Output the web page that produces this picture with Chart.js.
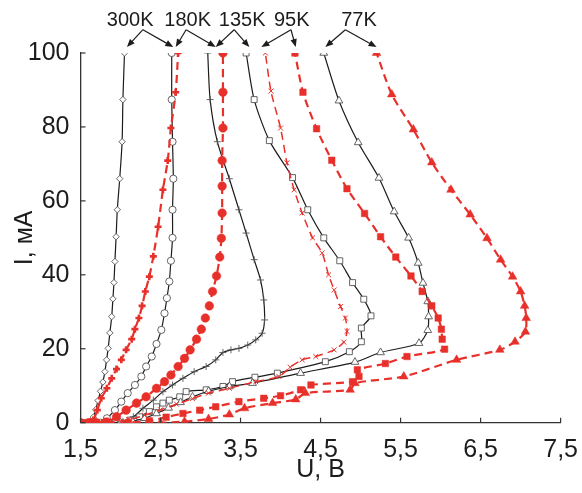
<!DOCTYPE html>
<html>
<head>
<meta charset="utf-8">
<script src="https://cdn.jsdelivr.net/npm/chart.js@4.4.1/dist/chart.umd.min.js"></script>
<style>
  html, body { margin: 0; padding: 0; background: #fff; }
  #wrap { width: 582px; height: 493px; }
</style>
</head>
<body>
<div id="wrap"><canvas id="c"></canvas></div>
<script>
// --- data: U in volts, I in mA ---
// black solid curves
var u300b = [1.5, 1.56, 1.62, 1.66, 1.69, 1.72, 1.75, 1.78, 1.805, 1.826, 1.846, 1.867, 1.89, 1.905, 1.918, 1.93, 1.945, 1.96, 1.99, 2.02, 2.03, 2.05];
var i300b = [0, 0, 0.3, 1.5, 3.5, 6, 8.5, 11, 13.8, 17, 20.1, 24.3, 28.7, 33.5, 37.9, 43.6, 50.3, 57.6, 66, 76, 87.4, 100];

var u180b = [1.5, 1.6, 1.7, 1.75, 1.83, 1.93, 2.01, 2.09, 2.18, 2.26, 2.32, 2.39, 2.45, 2.51, 2.55, 2.58, 2.61, 2.63, 2.65, 2.65, 2.66, 2.65, 2.64, 2.64];
var i180b = [0, 0, 0, 0, 1.2, 3.4, 5.7, 8, 10.2, 12.5, 15.2, 17.9, 21.3, 25.1, 29.6, 33.7, 38.2, 43.8, 50, 57.6, 66, 76, 87.4, 100];

var u135b = [1.5, 1.7, 1.9, 2.03, 2.16, 2.28, 2.41, 2.53, 2.65, 2.78, 2.92, 3.07, 3.19, 3.28, 3.38, 3.48, 3.59, 3.69, 3.77, 3.8, 3.79, 3.75, 3.67, 3.57, 3.48, 3.36, 3.21, 3.12, 3.09];
var i135b = [0, 0, 0, 0.3, 1.6, 3.9, 6.1, 8.4, 10.2, 12, 13.8, 15.2, 17, 19, 19.7, 20.1, 21, 22.4, 24.2, 27.8, 33.2, 38.6, 44.1, 51.3, 57.6, 66, 76, 87.4, 100];

var u95b = [1.5, 1.8, 2.0, 2.12, 2.24, 2.36, 2.45, 2.53, 2.61, 2.74, 2.82, 3.07, 3.28, 3.4, 3.68, 3.96, 4.56, 4.86, 5.01, 5.01, 5.13, 5.04, 4.9, 4.74, 4.54, 4.34, 4.15, 3.86, 3.67, 3.57];
var i95b = [0, 0, 0, 0.7, 1.6, 3, 4.3, 5.3, 6.1, 7, 8.4, 8.9, 9.8, 11.1, 12.3, 13.4, 16.5, 19.2, 21.9, 25.6, 28.9, 33.4, 37.9, 43.8, 50, 57.6, 66.3, 76.3, 87.4, 100];

var u77b = [1.5, 1.8, 2.0, 2.15, 2.3, 2.45, 2.6, 2.75, 2.9, 3.1, 3.36, 3.65, 4.25, 4.93, 5.25, 5.73, 5.84, 5.85, 5.84, 5.78, 5.72, 5.6, 5.42, 5.23, 4.97, 4.73, 4.54];
var i77b = [0, 0, 0, 0.4, 1.2, 2.5, 4, 5.5, 7, 8.5, 9.8, 10.7, 13.4, 16.4, 19, 21.5, 25, 28.7, 32.8, 37.8, 43.2, 50, 57.1, 66.2, 75.8, 87.1, 100];

// red dashed curves
var u300r = [1.5, 1.55, 1.6, 1.63, 1.66, 1.71, 1.76, 1.83, 1.89, 1.95, 2.01, 2.07, 2.14, 2.18, 2.23, 2.27, 2.31, 2.36, 2.41, 2.47, 2.53, 2.59, 2.63, 2.69, 2.72];
var i300r = [0, 0, 0, 0.2, 0.7, 3.4, 6.6, 9.3, 12, 14.5, 17, 19.7, 22.6, 25.3, 28.3, 31.6, 35.5, 39.5, 45, 53, 63, 70.9, 79.7, 89.4, 100];

var u180r = [1.5, 1.6, 1.7, 1.83, 1.95, 2.07, 2.2, 2.32, 2.45, 2.55, 2.63, 2.72, 2.8, 2.87, 2.95, 3.01, 3.06, 3.11, 3.15, 3.2, 3.24, 3.26, 3.27, 3.27, 3.27, 3.28, 3.28, 3.28];
var i180r = [0, 0, 0, 0.2, 1.6, 3.4, 5.3, 7, 9.3, 11.1, 12.9, 15.2, 17.4, 19.7, 22.6, 25.3, 28.3, 31.6, 35.5, 39.7, 44.8, 49.9, 56.7, 64, 70.9, 79.7, 89.4, 100];

var u135r = [1.5, 1.7, 1.9, 2.1, 2.3, 2.5, 2.7, 2.9, 3.1, 3.36, 3.69, 3.98, 4.12, 4.27, 4.44, 4.67, 4.79, 4.83, 4.81, 4.75, 4.67, 4.6, 4.52, 4.4, 4.27, 4.17, 4.08, 4.0, 3.88, 3.81];
var i135r = [0, 0, 0.2, 0.8, 2, 3.5, 5, 6.5, 8, 9.3, 11.1, 12.5, 15, 17, 17.9, 19.7, 21.8, 24.7, 28.3, 31.4, 35.9, 40, 45.9, 50, 56.7, 63, 70.3, 79.7, 89.7, 100];

var u95r = [1.5, 1.8, 2.1, 2.36, 2.57, 2.78, 2.99, 3.19, 3.48, 3.79, 4.0, 4.25, 4.38, 4.9, 4.98, 4.96, 5.31, 5.58, 6.05, 6.02, 6.01, 5.97, 5.89, 5.77, 5.63, 5.44, 5.25, 5.05, 4.83, 4.64, 4.45, 4.28, 4.18];
var i95r = [0, 0, 0, 0.5, 1.5, 2.5, 3.4, 4.3, 5.7, 6.6, 7.3, 8.9, 10.2, 11.1, 12.5, 14.3, 16, 17.9, 19.9, 22.6, 25.3, 28.3, 31.6, 35.5, 39.7, 44.8, 50.3, 56.6, 63.3, 71, 79.5, 89.4, 100];

var u77r = [1.5, 1.8, 2.1, 2.5, 2.8, 3.1, 3.36, 3.55, 3.9, 4.19, 4.31, 4.87, 4.93, 5.54, 6.2, 6.74, 6.93, 7.06, 7.07, 7.05, 7.0, 6.9, 6.75, 6.58, 6.37, 6.13, 5.89, 5.66, 5.39, 5.2];
var i77r = [0, 0, 0, 0, 0.3, 1, 2.2, 3.9, 5.3, 6.3, 8, 8.9, 10.7, 12.5, 17, 19.7, 21.9, 24.6, 28.3, 31.6, 35.5, 39.5, 44.1, 49.9, 56.3, 63, 70.4, 79.3, 88.8, 100];

// axis ticks
var uTicks = [1.5, 2.5, 3.5, 4.5, 5.5, 6.5, 7.5];
var iTicks = [0, 20, 40, 60, 80, 100];

// temperature labels and where their arrows point (data units)
var tempLabels = ["300K", "180K", "135K", "95K", "77K"];
var labelU = [2.12, 2.84, 3.52, 4.14, 4.98];
var apexU = [2.28, 2.82, 3.42, 4.13, 4.81];
var arrowLeftU = [2.08, 2.69, 3.19, 3.76, 4.56];
var arrowRightU = [2.66, 3.19, 3.61, 4.19, 5.20];
var labelI = 108.8, apexI = 106.3, arrowEndI = 101.6;

var RED = "#e8302b";
var BLACK = "#1c1c1c";
var FONT = "'Liberation Sans', Arial, sans-serif";

function pts(us, is) {
  return us.map(function (u, k) { return { x: u, y: is[k] }; });
}

function blackSet(us, is, style, r) {
  return {
    data: pts(us, is),
    borderColor: BLACK,
    borderWidth: 1.2,
    pointStyle: style,
    pointRadius: r,
    pointBorderWidth: 0.9,
    pointBorderColor: "#555",
    pointBackgroundColor: "#fff",
    tension: 0.25,
    showLine: true
  };
}

function redSet(us, is, style, r, width) {
  return {
    data: pts(us, is),
    borderColor: RED,
    borderWidth: width,
    borderDash: [8, 5],
    pointStyle: style,
    pointRadius: r,
    pointBorderWidth: style === "cross" ? 2.6 : (style === "crossRot" ? 1 : 0.5),
    pointBorderColor: RED,
    pointBackgroundColor: RED,
    tension: 0.25,
    showLine: true
  };
}

// inward tick marks + temperature labels with arrows
var decorPlugin = {
  id: "decor",
  afterDraw: function (chart) {
    var ctx = chart.ctx, xs = chart.scales.x, ys = chart.scales.y;
    var area = chart.chartArea;
    ctx.save();
    ctx.strokeStyle = "#333";
    ctx.lineWidth = 1.2;
    uTicks.forEach(function (v) {
      var px = xs.getPixelForValue(v);
      ctx.beginPath();
      ctx.moveTo(px, area.bottom);
      ctx.lineTo(px, area.bottom - 5);
      ctx.stroke();
    });
    iTicks.forEach(function (v) {
      var py = ys.getPixelForValue(v);
      ctx.beginPath();
      ctx.moveTo(area.left, py);
      ctx.lineTo(area.left + 5, py);
      ctx.stroke();
    });

    ctx.fillStyle = BLACK;
    ctx.font = "20px " + FONT;
    ctx.textAlign = "center";
    ctx.textBaseline = "middle";
    var ly = ys.getPixelForValue(labelI);
    var ay = ys.getPixelForValue(apexI);
    var ey = ys.getPixelForValue(arrowEndI);
    tempLabels.forEach(function (t, k) {
      ctx.fillText(t, xs.getPixelForValue(labelU[k]), ly);
      var ax = xs.getPixelForValue(apexU[k]);
      [arrowLeftU[k], arrowRightU[k]].forEach(function (endU) {
        var ex = xs.getPixelForValue(endU);
        var ang = Math.atan2(ey - ay, ex - ax);
        ctx.strokeStyle = BLACK;
        ctx.lineWidth = 1.2;
        ctx.beginPath();
        ctx.moveTo(ax, ay);
        ctx.lineTo(ex - 5 * Math.cos(ang), ey - 5 * Math.sin(ang));
        ctx.stroke();
        ctx.beginPath();
        ctx.moveTo(ex, ey);
        ctx.lineTo(ex - 8 * Math.cos(ang) + 3.2 * Math.sin(ang), ey - 8 * Math.sin(ang) - 3.2 * Math.cos(ang));
        ctx.lineTo(ex - 8 * Math.cos(ang) - 3.2 * Math.sin(ang), ey - 8 * Math.sin(ang) + 3.2 * Math.cos(ang));
        ctx.closePath();
        ctx.fill();
      });
    });
    ctx.restore();
  }
};

new Chart(document.getElementById("c"), {
  type: "scatter",
  data: {
    datasets: [
      redSet(u77r, i77r, "triangle", 5, 2.2),
      redSet(u95r, i95r, "rect", 4.6, 2.2),
      redSet(u135r, i135r, "crossRot", 3.5, 1.5),
      redSet(u180r, i180r, "circle", 4.3, 2.2),
      redSet(u300r, i300r, "cross", 3.5, 2.2),
      blackSet(u77b, i77b, "triangle", 4.5),
      blackSet(u95b, i95b, "rect", 4.2),
      blackSet(u135b, i135b, "cross", 3.5),
      blackSet(u180b, i180b, "circle", 3.6),
      blackSet(u300b, i300b, "rectRot", 3.2)
    ]
  },
  options: {
    responsive: true,
    maintainAspectRatio: false,
    animation: false,
    layout: { padding: { top: 53, right: 19, bottom: 0, left: 0 } },
    plugins: { legend: { display: false }, tooltip: { enabled: false } },
    scales: {
      x: {
        type: "linear",
        min: 1.5,
        max: 7.5,
        afterBuildTicks: function (s) { s.ticks = uTicks.map(function (v) { return { value: v }; }); },
        afterFit: function (s) { s.height = 70.3; },
        grid: { display: false },
        border: { display: true, color: "#333", width: 1.3 },
        ticks: {
          padding: 4,
          maxRotation: 0,
          autoSkip: false,
          color: BLACK,
          font: { family: FONT, size: 25 },
          callback: function (v) { return v.toFixed(1).replace(".", ","); }
        },
        title: { display: true, text: "U, B", color: BLACK, font: { family: FONT, size: 25 }, padding: { top: 8, bottom: 8 } }
      },
      y: {
        min: 0,
        max: 100,
        afterBuildTicks: function (s) { s.ticks = iTicks.map(function (v) { return { value: v }; }); },
        afterFit: function (s) { s.width = 80.5; },
        grid: { display: false },
        border: { display: true, color: "#333", width: 1.3 },
        ticks: { padding: 3, color: BLACK, font: { family: FONT, size: 25 } },
        title: { display: true, text: "I, мА", color: BLACK, font: { family: FONT, size: 25 }, padding: { top: 10, bottom: 0 } }
      }
    }
  },
  plugins: [decorPlugin]
});
</script>
</body>
</html>
